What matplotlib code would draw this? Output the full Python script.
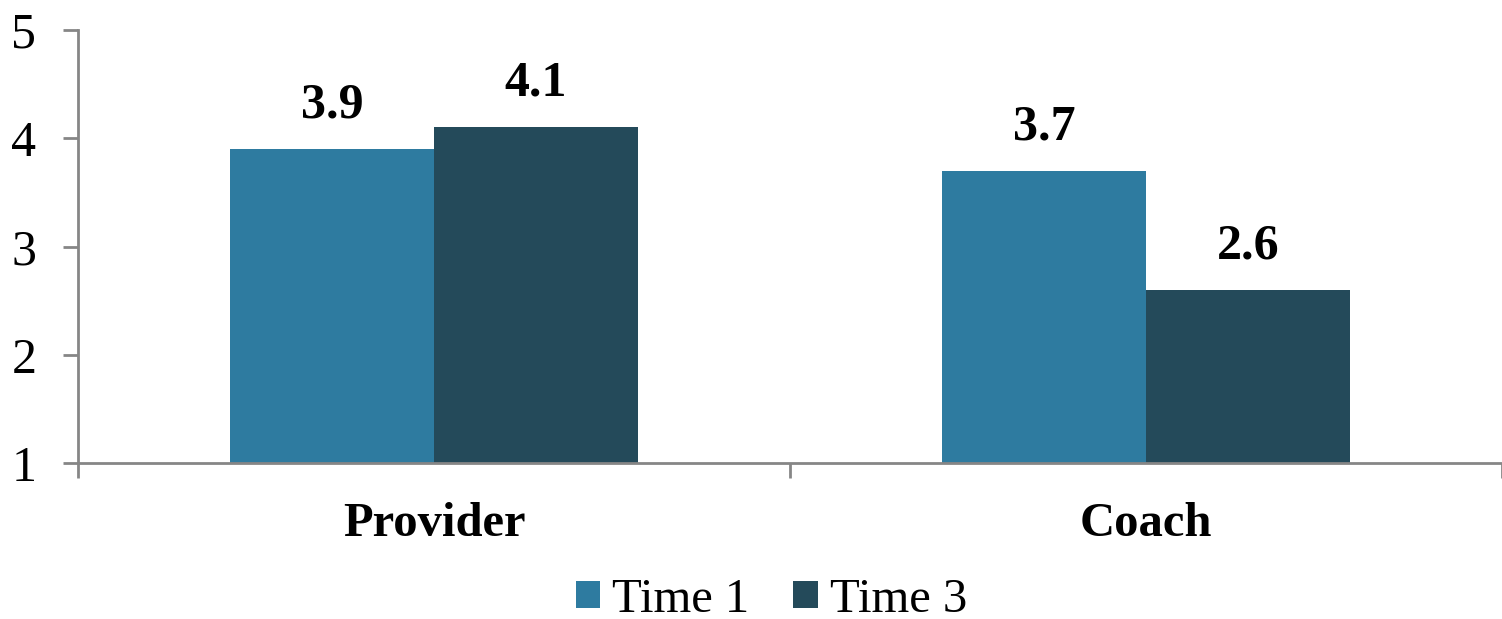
import numpy as np
import matplotlib.pyplot as plt

# Mean scores by group and time point
categories = ['Provider', 'Coach']
series_names = ['Time 1', 'Time 3']
time1 = [3.9, 3.7]
time3 = [4.1, 2.6]
colors = ['#2E7BA0', '#244A5A']
yticks = [1, 2, 3, 4, 5]

plt.rcParams['font.family'] = ['Liberation Serif', 'DejaVu Serif']

fig = plt.figure(figsize=(15.02, 6.19), dpi=100)
ax = fig.add_axes([0.0519, 0.252, 0.9481, 0.6995])

x = np.arange(len(categories))
w = 0.286
axis_col = '#868686'

for i, (vals, name, col) in enumerate(zip([time1, time3], series_names, colors)):
    pos = x + (i - 0.5) * w
    ax.bar(pos, np.array(vals) - 1, bottom=1, width=w, color=col, label=name)
    for p, v in zip(pos, vals):
        ax.text(p, v + 0.19, f'{v:.1f}', ha='center', va='bottom',
                fontsize=36, fontweight='bold')

ax.set_xlim(-0.5, 1.5)
ax.set_ylim(1, 5)
ax.set_yticks(yticks)
ax.set_yticklabels([str(t) for t in yticks], fontsize=36)

# category labels sit between boundary ticks
ax.set_xticks([-0.5, 0.5, 1.5])
ax.set_xticklabels([])
ax.set_xticks(x, minor=True)
ax.set_xticklabels(categories, minor=True, fontsize=35, fontweight='bold')
ax.tick_params(axis='x', which='minor', length=0, pad=28)
ax.tick_params(axis='x', which='major', length=11, width=2, color=axis_col)
ax.tick_params(axis='y', length=11, width=2, color=axis_col, pad=19)

for s in ['top', 'right']:
    ax.spines[s].set_visible(False)
for s in ['left', 'bottom']:
    ax.spines[s].set_color(axis_col)
    ax.spines[s].set_linewidth(2)

ax.legend(loc='center', bbox_to_anchor=(0.487, -0.316), ncol=2,
          frameon=False, fontsize=35, handlelength=0.5, handleheight=0.5,
          handletextpad=0.25, columnspacing=0.9, borderpad=0)

fig.savefig('out.png', dpi=100)
